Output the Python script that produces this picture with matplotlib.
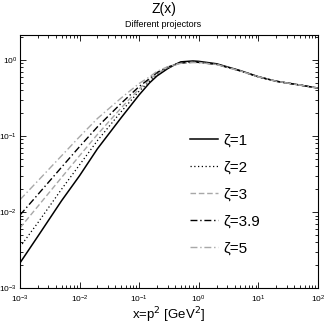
import matplotlib
matplotlib.use("Agg")
import matplotlib.pyplot as plt

plt.rcParams['font.family'] = ['Liberation Sans', 'DejaVu Sans']

x = [1e-3, 2e-3, 5e-3, 1e-2, 2e-2, 5e-2, 0.1, 0.15, 0.2, 0.3, 0.4, 0.5, 0.8, 1, 2, 5, 10, 20, 50, 100]

z1 = [0.00214, 0.0048, 0.0141, 0.030, 0.068, 0.174, 0.347, 0.50, 0.617, 0.767, 0.87, 0.944, 0.970, 0.959, 0.891, 0.724, 0.603, 0.525, 0.468, 0.427]
z2 = [0.00347, 0.00724, 0.0200, 0.0417, 0.0871, 0.209, 0.389, 0.525, 0.646, 0.785, 0.86, 0.923, 0.944, 0.938, 0.881, 0.720, 0.600, 0.525, 0.468, 0.427]
z3 = [0.00617, 0.0119, 0.0285, 0.0550, 0.105, 0.234, 0.417, 0.55, 0.668, 0.794, 0.86, 0.912, 0.933, 0.929, 0.871, 0.716, 0.600, 0.525, 0.468, 0.427]
z39 = [0.00912, 0.0170, 0.0389, 0.0724, 0.132, 0.269, 0.447, 0.57, 0.684, 0.804, 0.87, 0.912, 0.933, 0.929, 0.875, 0.718, 0.600, 0.525, 0.468, 0.427]
z5 = [0.0145, 0.0257, 0.0550, 0.0977, 0.170, 0.316, 0.490, 0.60, 0.708, 0.813, 0.86, 0.902, 0.923, 0.923, 0.871, 0.716, 0.600, 0.525, 0.468, 0.427]

labels = ["ζ=1", "ζ=2", "ζ=3", "ζ=3.9", "ζ=5"]

fig = plt.figure(figsize=(3.27, 3.27), dpi=100)
ax = fig.add_axes([0.061, 0.119, 0.911, 0.774])

gray = "#a8a8a8"
ax.plot(x, z1, color="black", lw=1.1, ls="-", label=labels[0])
ax.plot(x, z2, color="black", lw=0.9, ls=(0, (1, 2)), label=labels[1])
ax.plot(x, z3, color=gray, lw=1.0, ls=(0, (4, 2)), label=labels[2])
ax.plot(x, z39, color="black", lw=1.0, ls=(0, (5, 2, 1, 2)), label=labels[3])
ax.plot(x, z5, color=gray, lw=1.0, ls=(0, (5, 2, 1, 2)), label=labels[4])

ax.set_xscale("log")
ax.set_yscale("log")
ax.set_xlim(1e-3, 100)
ax.set_ylim(1e-3, 2.13)
ax.tick_params(which="both", direction="in", top=True, right=True, labelsize=6, width=0.6)
ax.tick_params(which="major", length=4)
ax.tick_params(axis="y", which="major", pad=2)
ax.tick_params(axis="x", which="major", pad=4)
ax.tick_params(which="minor", length=2)
for s in ax.spines.values():
    s.set_linewidth(0.8)

ax.set_xlabel("x=p$^2$ [GeV$^2$]", fontsize=9.5, labelpad=0)
fig.text(0.5, 0.993, "Z(x)", ha="center", va="top", fontsize=10)
fig.text(0.5, 0.939, "Different projectors", ha="center", va="top", fontsize=6.5)

ax.legend(loc="upper left", bbox_to_anchor=(0.525, 0.665), frameon=False, fontsize=11,
          handlelength=1.8, handletextpad=0.4, labelspacing=0.85)

fig.savefig("out.png", dpi=100)
